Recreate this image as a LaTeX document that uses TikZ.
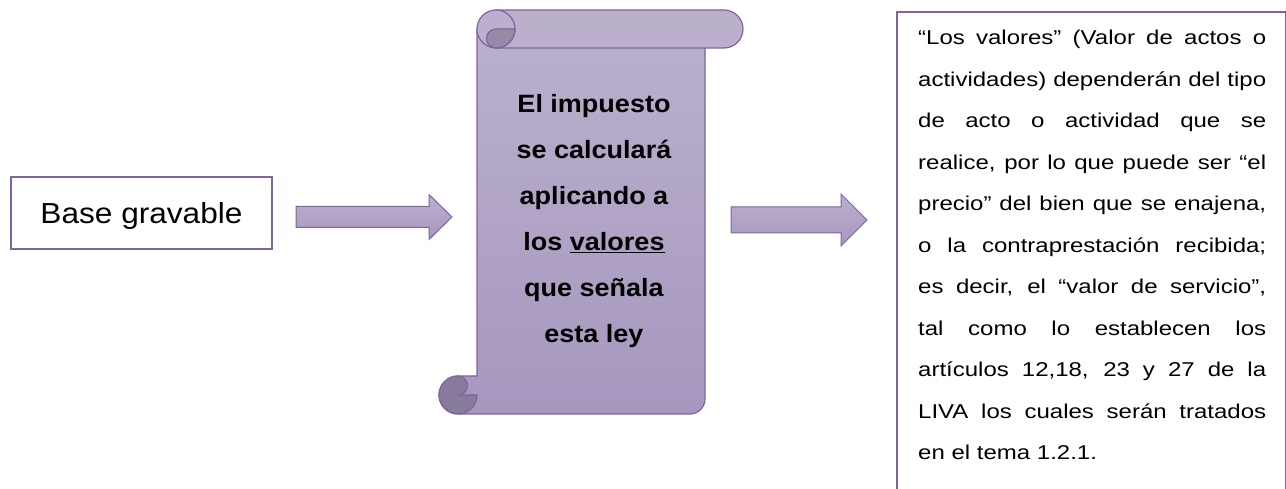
\documentclass[tikz,border=0pt]{standalone}
\usepackage{fontspec}
\setmainfont{Liberation Sans}
\newfontfamily\basefont[FakeStretch=1.09]{Liberation Sans}
\newfontfamily\rollfont[FakeStretch=1.08]{Liberation Sans}
\newfontfamily\notefont[FakeStretch=1.2]{Liberation Sans}
\usepackage{xcolor}
\usepackage{tikz}
\definecolor{lila}{HTML}{8064A2}
\definecolor{lilatop}{HTML}{BAB0CC}
\definecolor{lilabot}{HTML}{A797BF}
\definecolor{rolldark}{HTML}{968BA6}
\definecolor{curldark}{HTML}{877B9C}

\begin{document}
\begin{tikzpicture}[x=1pt,y=1pt,
  frame/.style={draw=lila, line width=2},
  sheet/.style={draw=lila, line width=1.2, top color=lilatop, bottom color=lilabot},
  flecha/.style={draw=lila, line width=1, top color=lilatop, bottom color=lilabot}]
\useasboundingbox (0,0) rectangle (1286,489);
\clip (0,0) rectangle (1286,489);
% caja izquierda
\node[frame, minimum width=261, minimum height=72, inner sep=0, text height=22, text depth=0,
  font=\basefont\fontsize{29}{34}\selectfont] (base) at (141.5,276) {Base gravable};
% flechas
\path[flecha] (296,282.5)--(429,282.5)--(429,294.5)--(452,272)--(429,249.5)--(429,261.5)--(296,261.5)--cycle;
\path[flecha] (731,282)--(841,282)--(841,295)--(867,269)--(841,243)--(841,256)--(731,256)--cycle;
% pergamino
\path[sheet] (477,460)--(477,113)--(458,113) arc[start angle=90,end angle=270,radius=19]
  --(690,75) arc[start angle=270,end angle=360,radius=15]--(705,460)--cycle;
\filldraw[draw=lila, fill=curldark, line width=1.2] (458,113) arc[start angle=90,end angle=360,radius=19]
  --(458,94) arc[start angle=-90,end angle=90,radius=9.5]--cycle;
\filldraw[draw=lila, fill=lilatop, line width=1.2] (496,479)--(724,479) arc[start angle=90,end angle=-90,radius=19]--(496,441)--cycle;
\filldraw[draw=lila, fill=lilatop, line width=1.2] (496,460) circle[radius=19];
\filldraw[draw=lila, fill=rolldark, line width=1.2] (496,460)--(515,460) arc[start angle=0,end angle=-90,radius=19]
  arc[start angle=-90,end angle=-270,radius=9.5]--cycle;
\node[anchor=base, align=center, inner sep=0, font=\rollfont\bfseries\fontsize{25}{46}\selectfont] (impuesto) at (594,146)
  {El impuesto\\se calculará\\aplicando a\\los \underline{valores}\\que señala\\esta ley};
% caja derecha
\draw[frame] (897,-10)--(897,477)--(1286,477)--(1286,-10);
\node[anchor=base west, text width=348, inner sep=0, align=justify,
  font=\notefont\fontsize{20}{41.5}\selectfont] (valores) at (918,444)
  {\tolerance=10000 \hbadness=10000
   “Los valores” (Valor de actos o\linebreak
   actividades) dependerán del tipo\linebreak
   de acto o actividad que se\linebreak
   realice, por lo que puede ser “el\linebreak
   precio” del bien que se enajena,\linebreak
   o la contraprestación recibida;\linebreak
   es decir, el “valor de servicio”,\linebreak
   tal como lo establecen los\linebreak
   artículos 12,18, 23 y 27 de la\linebreak
   LIVA los cuales serán tratados\linebreak
   en el tema 1.2.1.};
\end{tikzpicture}
\end{document}
